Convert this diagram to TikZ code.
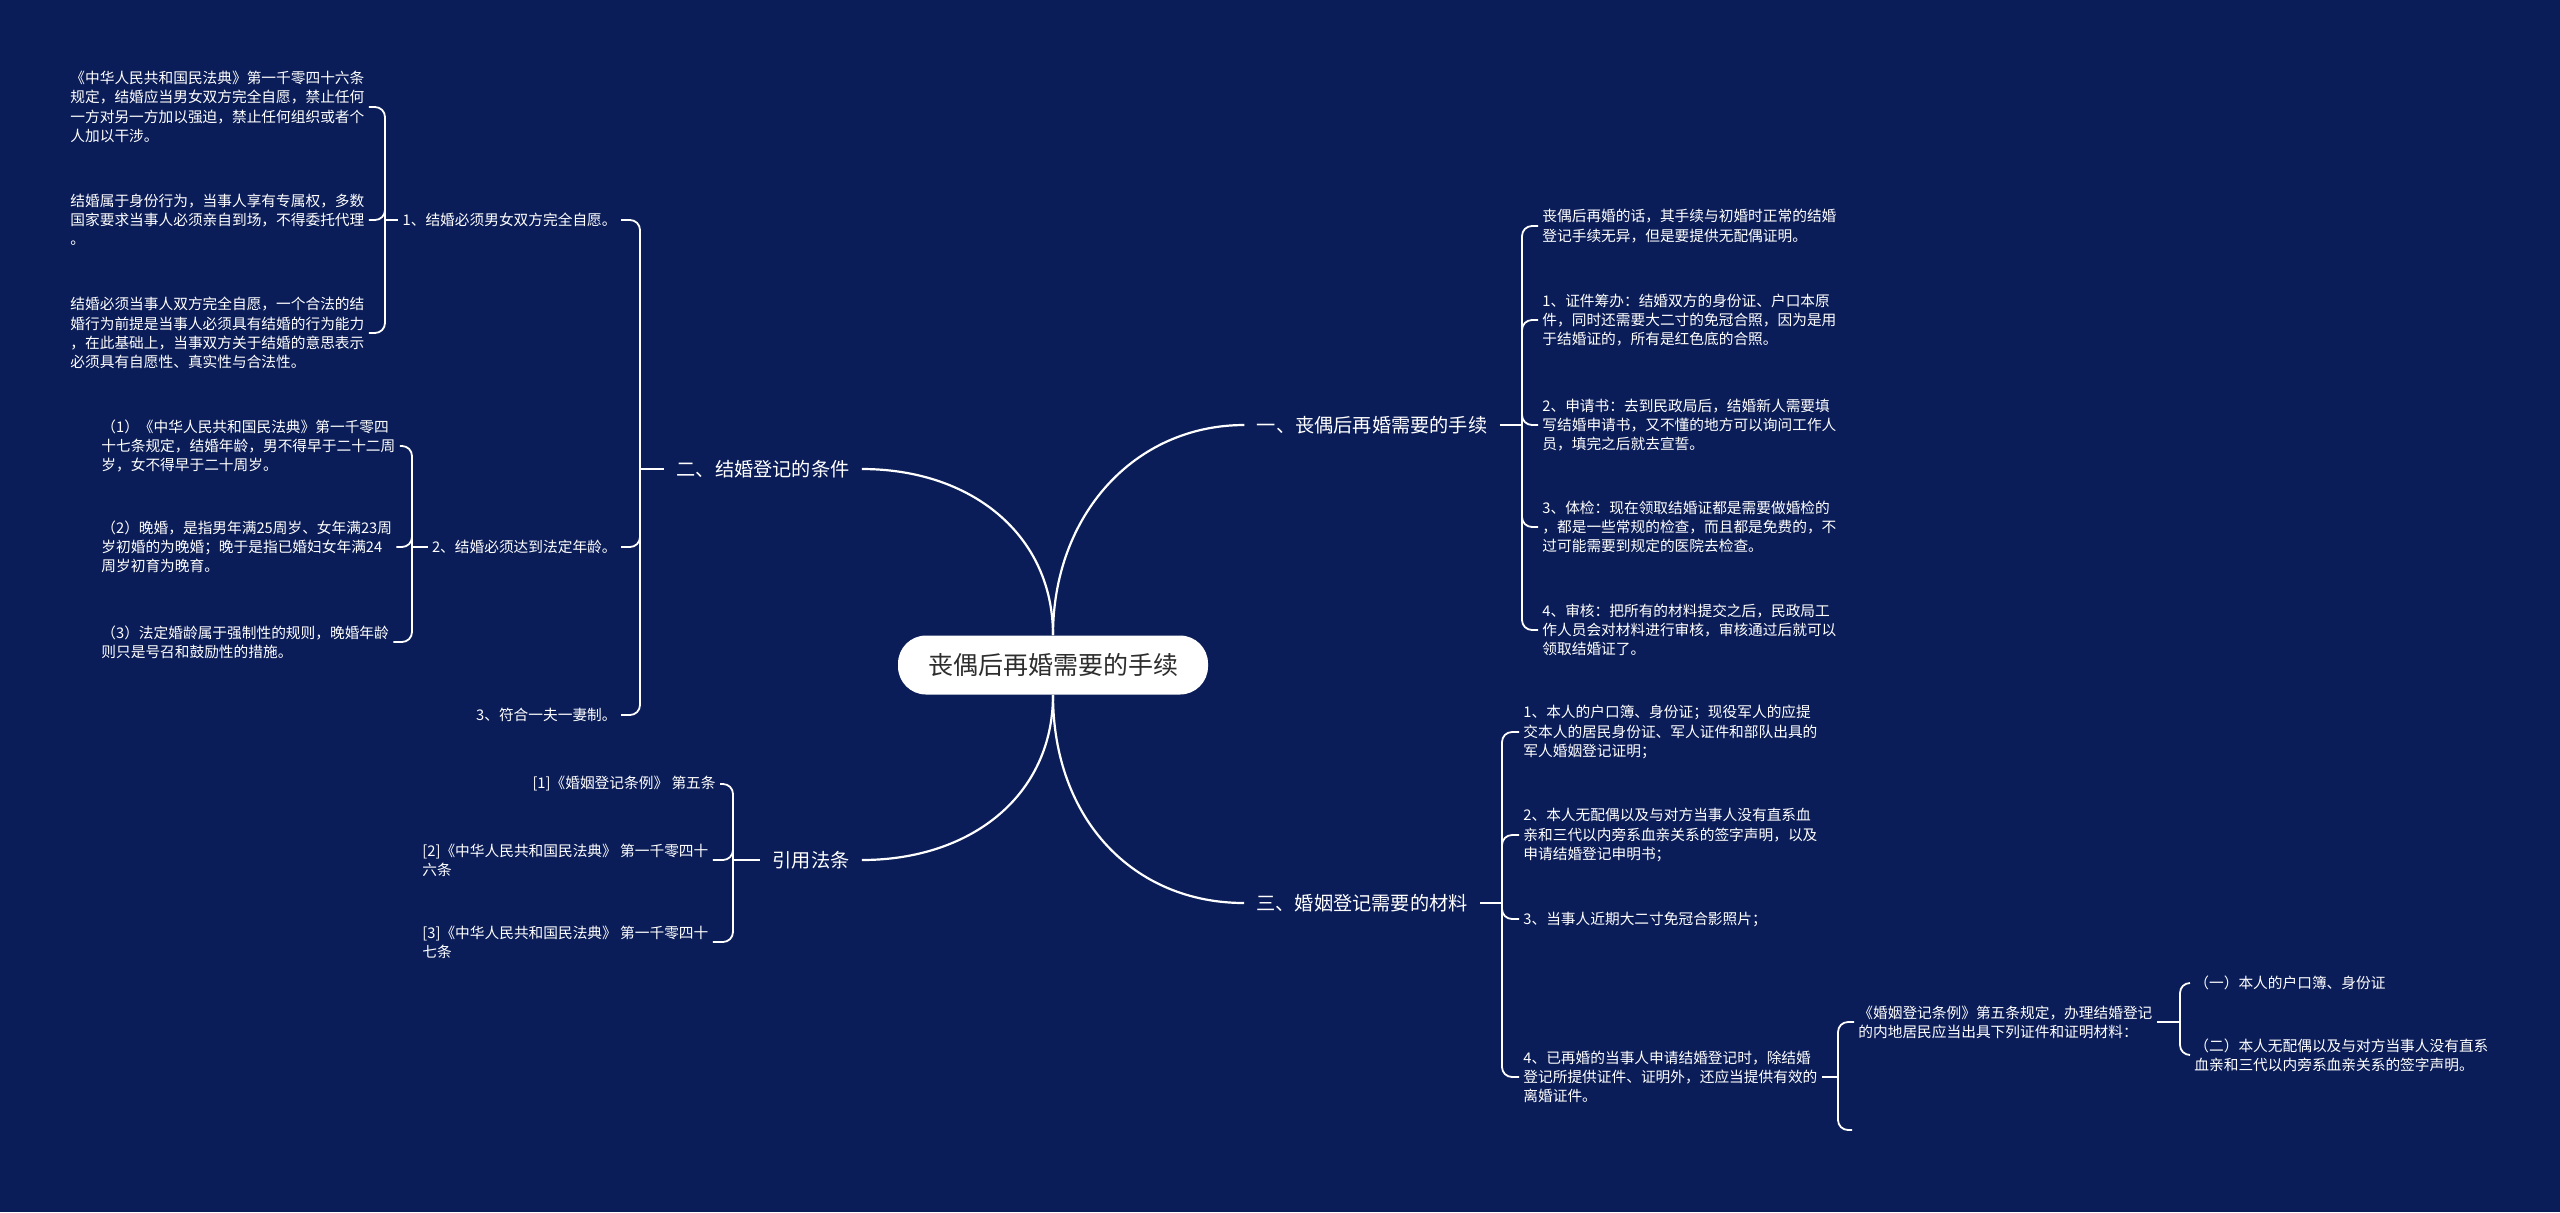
\documentclass[tikz,border=0pt]{standalone}
\usepackage{fontspec}
\setmainfont{Noto Sans CJK SC}
\definecolor{mapnavy}{RGB}{11,29,88}
\definecolor{rootgray}{RGB}{45,45,45}

\begin{document}
\begin{tikzpicture}[
	x=0.5pt, y=-0.5pt,
	every node/.style={text=white},
	root/.style={
		fill=white,
		text=rootgray,
		rounded corners=14pt,
		minimum width=155pt,
		minimum height=29.5pt,
		font=\fontsize{12.5}{15}\selectfont
	},
	branch/.style={
		font=\fontsize{9.6}{12}\selectfont,
		inner xsep=6pt,
		inner ysep=2pt
	},
	leaf/.style={
		font=\fontsize{7.35}{9.6}\selectfont,
		align=left,
		inner xsep=2pt,
		inner ysep=1pt
	},
	trunk/.style={draw=white, line width=1.1pt},
	twig/.style={draw=white, line width=0.9pt, rounded corners=5pt}
	]
	
	% Background
	\fill[mapnavy] (0,0) rectangle (2560,1212);
	
	% Nodes
	\node[root] (root) at (1053,665) {丧偶后再婚需要的手续};
	
	\node[branch] (b1) at (1372,425) {一、丧偶后再婚需要的手续};
	\node[branch] (b2) at (763,469) {二、结婚登记的条件};
	\node[branch] (b3) at (811,860) {引用法条};
	\node[branch] (b4) at (1362,903) {三、婚姻登记需要的材料};
	
	% left: conditions
	\node[leaf, anchor=east] (c1) at (621,220) {1、结婚必须男女双方完全自愿。};
	\node[leaf, anchor=east] (c2) at (621,547) {2、结婚必须达到法定年龄。};
	\node[leaf, anchor=east] (c3) at (621,715) {3、符合一夫一妻制。};
	
	\node[leaf, anchor=west] (a1) at (66,107) {《中华人民共和国民法典》第一千零四十六条\\规定，结婚应当男女双方完全自愿，禁止任何\\一方对另一方加以强迫，禁止任何组织或者个\\人加以干涉。};
	\node[leaf, anchor=west] (a2) at (66,220) {结婚属于身份行为，当事人享有专属权，多数\\国家要求当事人必须亲自到场，不得委托代理\\。};
	\node[leaf, anchor=west] (a3) at (66,333) {结婚必须当事人双方完全自愿，一个合法的结\\婚行为前提是当事人必须具有结婚的行为能力\\，在此基础上，当事双方关于结婚的意思表示\\必须具有自愿性、真实性与合法性。};
	
	\node[leaf, anchor=west] (e1) at (97,446) {（1）《中华人民共和国民法典》第一千零四\\十七条规定，结婚年龄，男不得早于二十二周\\岁，女不得早于二十周岁。};
	\node[leaf, anchor=west] (e2) at (97,547) {（2）晚婚，是指男年满25周岁、女年满23周\\岁初婚的为晚婚；晚于是指已婚妇女年满24\\周岁初育为晚育。};
	\node[leaf, anchor=west] (e3) at (97,642) {（3）法定婚龄属于强制性的规则，晚婚年龄\\则只是号召和鼓励性的措施。};
	
	% left: cited articles
	\node[leaf, anchor=east] (d1) at (720,784) {[1]《婚姻登记条例》 第五条};
	\node[leaf, anchor=west] (d2) at (418,860) {[2]《中华人民共和国民法典》 第一千零四十\\六条};
	\node[leaf, anchor=west] (d3) at (418,942) {[3]《中华人民共和国民法典》 第一千零四十\\七条};
	
	% right: procedure
	\node[leaf, anchor=west] (r1) at (1538,226) {丧偶后再婚的话，其手续与初婚时正常的结婚\\登记手续无异，但是要提供无配偶证明。};
	\node[leaf, anchor=west] (r2) at (1538,320) {1、证件筹办：结婚双方的身份证、户口本原\\件，同时还需要大二寸的免冠合照，因为是用\\于结婚证的，所有是红色底的合照。};
	\node[leaf, anchor=west] (r3) at (1538,425) {2、申请书：去到民政局后，结婚新人需要填\\写结婚申请书，又不懂的地方可以询问工作人\\员，填完之后就去宣誓。};
	\node[leaf, anchor=west] (r4) at (1538,527) {3、体检：现在领取结婚证都是需要做婚检的\\，都是一些常规的检查，而且都是免费的，不\\过可能需要到规定的医院去检查。};
	\node[leaf, anchor=west] (r5) at (1538,630) {4、审核：把所有的材料提交之后，民政局工\\作人员会对材料进行审核，审核通过后就可以\\领取结婚证了。};
	
	% right: materials
	\node[leaf, anchor=west] (s1) at (1519,732) {1、本人的户口簿、身份证；现役军人的应提\\交本人的居民身份证、军人证件和部队出具的\\军人婚姻登记证明；};
	\node[leaf, anchor=west] (s2) at (1519,835) {2、本人无配偶以及与对方当事人没有直系血\\亲和三代以内旁系血亲关系的签字声明，以及\\申请结婚登记申明书；};
	\node[leaf, anchor=west] (s3) at (1519,919) {3、当事人近期大二寸免冠合影照片；};
	\node[leaf, anchor=west] (s4) at (1519,1077) {4、已再婚的当事人申请结婚登记时，除结婚\\登记所提供证件、证明外，还应当提供有效的\\离婚证件。};
	
	\node[leaf, anchor=west] (t1) at (1854,1022) {《婚姻登记条例》第五条规定，办理结婚登记\\的内地居民应当出具下列证件和证明材料：};
	\coordinate (t2) at (1852,1130);
	
	\node[leaf, anchor=west] (u1) at (2190,983) {（一）本人的户口簿、身份证};
	\node[leaf, anchor=west] (u2) at (2190,1055) {（二）本人无配偶以及与对方当事人没有直系\\血亲和三代以内旁系血亲关系的签字声明。};
	
	% Junctions
	\coordinate (jA) at (385,220);
	\coordinate (jE) at (412,547);
	\coordinate (jC) at (640,469);
	\coordinate (jD) at (733,860);
	\coordinate (jR) at (1522,425);
	\coordinate (jS) at (1502,903);
	\coordinate (jT) at (1838,1077);
	\coordinate (jU) at (2180,1022);
	
	% Main curves
	\draw[trunk] (root.north) .. controls +(0,-120) and +(-110,0) .. (b1.west);
	\draw[trunk] (root.north) .. controls +(0,-100) and +(110,0) .. (b2.east);
	\draw[trunk] (root.south) .. controls +(0,100) and +(110,0) .. (b3.east);
	\draw[trunk] (root.south) .. controls +(0,125) and +(-110,0) .. (b4.west);
	
	% Brackets
	\draw[twig] (b2.west) -- (jC);
	\draw[twig] (jC) |- (c1.east) (jC) |- (c2.east) (jC) |- (c3.east);
	
	\draw[twig] (c1.west) -- (jA);
	\draw[twig] (jA) |- (a1.east) (jA) |- (a2.east) (jA) |- (a3.east);
	
	\draw[twig] (c2.west) -- (jE);
	\draw[twig] (jE) |- (e1.east) (jE) |- (e2.east) (jE) |- (e3.east);
	
	\draw[twig] (b3.west) -- (jD);
	\draw[twig] (jD) |- (d1.east) (jD) |- (d2.east) (jD) |- (d3.east);
	
	\draw[twig] (b1.east) -- (jR);
	\draw[twig] (jR) |- (r1.west) (jR) |- (r2.west) (jR) |- (r3.west)
		(jR) |- (r4.west) (jR) |- (r5.west);
	
	\draw[twig] (b4.east) -- (jS);
	\draw[twig] (jS) |- (s1.west) (jS) |- (s2.west) (jS) |- (s3.west) (jS) |- (s4.west);
	
	\draw[twig] (s4.east) -- (jT);
	\draw[twig] (jT) |- (t1.west) (jT) |- (t2);
	
	\draw[twig] (t1.east) -- (jU);
	\draw[twig] (jU) |- (u1.west) (jU) |- (u2.west);
	
\end{tikzpicture}
\end{document}
